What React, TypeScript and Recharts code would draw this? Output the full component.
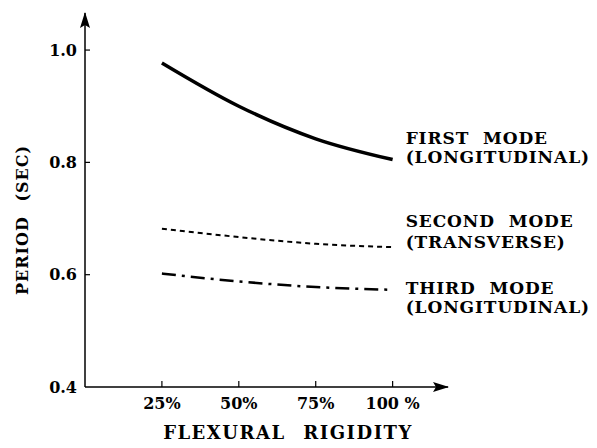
import React from 'react';
import { LineChart, Line, XAxis, YAxis, LabelList } from 'recharts';

const rigidity = [25, 50, 75, 100];
const firstMode = [0.977, 0.9, 0.842, 0.805];
const secondMode = [0.682, 0.667, 0.655, 0.649];
const thirdMode = [0.602, 0.588, 0.578, 0.573];
const xTicks = [25, 50, 75, 100];
const xTickLabels = ['25%', '50%', '75%', '100 %'];
const yTicks = [0.4, 0.6, 0.8, 1.0];

const data = rigidity.map((r, i) => ({
  r,
  first: firstMode[i],
  second: secondMode[i],
  third: thirdMode[i],
}));

const FONT = '"DejaVu Serif", serif';

const seriesLabels = {
  first: { lines: ['FIRST MODE', '(LONGITUDINAL)'], dy: [-22, -3] },
  second: { lines: ['SECOND MODE', '(TRANSVERSE)'], dy: [-26, -5] },
  third: { lines: ['THIRD MODE', '(LONGITUDINAL)'], dy: [-2, 17] },
};

const makeEndLabel = (key: keyof typeof seriesLabels) => (props: any) => {
  const { x, y, index } = props;
  if (index !== rigidity.length - 1) return null;
  const cfg = seriesLabels[key];
  return (
    <g>
      {cfg.lines.map((t, i) => (
        <text
          key={i}
          x={x + 13}
          y={y + cfg.dy[i]}
          dominantBaseline="central"
          fontFamily={FONT}
          fontWeight="bold"
          fontSize={17}
          letterSpacing={0.9}
          wordSpacing={7}
          fill="#000"
        >
          {t}
        </text>
      ))}
    </g>
  );
};

const YTick = (props: any) => {
  const { x, y, payload } = props;
  return (
    <g>
      <text
        x={x}
        y={y}
        textAnchor="end"
        dominantBaseline="central"
        fontFamily={FONT}
        fontWeight="bold"
        fontSize={16}
        fill="#000"
      >
        {payload.value.toFixed(1)}
      </text>
      {payload.value > 0.4 && (
        <line x1={x + 8} x2={x + 13} y1={y} y2={y} stroke="#000" strokeWidth={1.2} />
      )}
    </g>
  );
};

const XTick = (props: any) => {
  const { x, y, payload } = props;
  const idx = xTicks.indexOf(payload.value);
  return (
    <g>
      <line x1={x} x2={x} y1={y} y2={y - 6} stroke="#000" strokeWidth={1.2} />
      <text
        x={x}
        y={y + 16}
        textAnchor="middle"
        dominantBaseline="central"
        fontFamily={FONT}
        fontWeight="bold"
        fontSize={16}
        fill="#000"
      >
        {xTickLabels[idx]}
      </text>
    </g>
  );
};

export default function App() {
  return (
    <div style={{ width: 597, height: 448, background: '#fff' }}>
      <style>{'body{margin:0;background:#fff}'}</style>
      <svg width={0} height={0} style={{ position: 'absolute' }}>
        <defs>
          <marker
            id="arrowHead"
            viewBox="0 0 16 10"
            refX={15}
            refY={5}
            markerWidth={16}
            markerHeight={10}
            markerUnits="userSpaceOnUse"
            orient="auto-start-reverse"
          >
            <path d="M0,0 L16,5 L0,10 L3,5 Z" fill="#000" />
          </marker>
        </defs>
      </svg>
      <LineChart
        width={597}
        height={448}
        data={data}
        margin={{ top: 13, right: 149, bottom: 31, left: 25 }}
      >
        <XAxis
          dataKey="r"
          type="number"
          domain={[0, 118]}
          ticks={xTicks}
          tickSize={0}
          tickMargin={0}
          tick={<XTick />}
          height={30}
          axisLine={{ stroke: '#000', strokeWidth: 1.5, markerEnd: 'url(#arrowHead)' }}
          tickLine={false}
          allowDataOverflow
          label={(p: any) => (
            <text
              x={288}
              y={432}
              textAnchor="middle"
              dominantBaseline="central"
              fontFamily={FONT}
              fontWeight="bold"
              fontSize={18}
              letterSpacing={1.5}
              wordSpacing={10}
              fill="#000"
            >
              FLEXURAL RIGIDITY
            </text>
          )}
        />
        <YAxis
          type="number"
          domain={[0.4, 1.066]}
          ticks={yTicks}
          tickSize={0}
          tickMargin={8}
          tick={<YTick />}
          width={60}
          allowDataOverflow
          axisLine={{ stroke: '#000', strokeWidth: 1.5, markerStart: 'url(#arrowHead)' }}
          tickLine={false}
          label={(p: any) => (
            <text
              transform="translate(22,220) rotate(-90)"
              textAnchor="middle"
              dominantBaseline="central"
              fontFamily={FONT}
              fontWeight="bold"
              fontSize={16}
              letterSpacing={1}
              wordSpacing={8}
              fill="#000"
            >
              PERIOD (SEC)
            </text>
          )}
        />
        <Line
          dataKey="first"
          type="monotone"
          stroke="#000"
          strokeWidth={3.5}
          dot={false}
          isAnimationActive={false}
        >
          <LabelList content={makeEndLabel('first')} />
        </Line>
        <Line
          dataKey="second"
          type="monotone"
          stroke="#000"
          strokeWidth={2}
          strokeDasharray="5 4"
          dot={false}
          isAnimationActive={false}
        >
          <LabelList content={makeEndLabel('second')} />
        </Line>
        <Line
          dataKey="third"
          type="monotone"
          stroke="#000"
          strokeWidth={2.5}
          strokeDasharray="14 6 3 6"
          dot={false}
          isAnimationActive={false}
        >
          <LabelList content={makeEndLabel('third')} />
        </Line>
      </LineChart>
    </div>
  );
}
